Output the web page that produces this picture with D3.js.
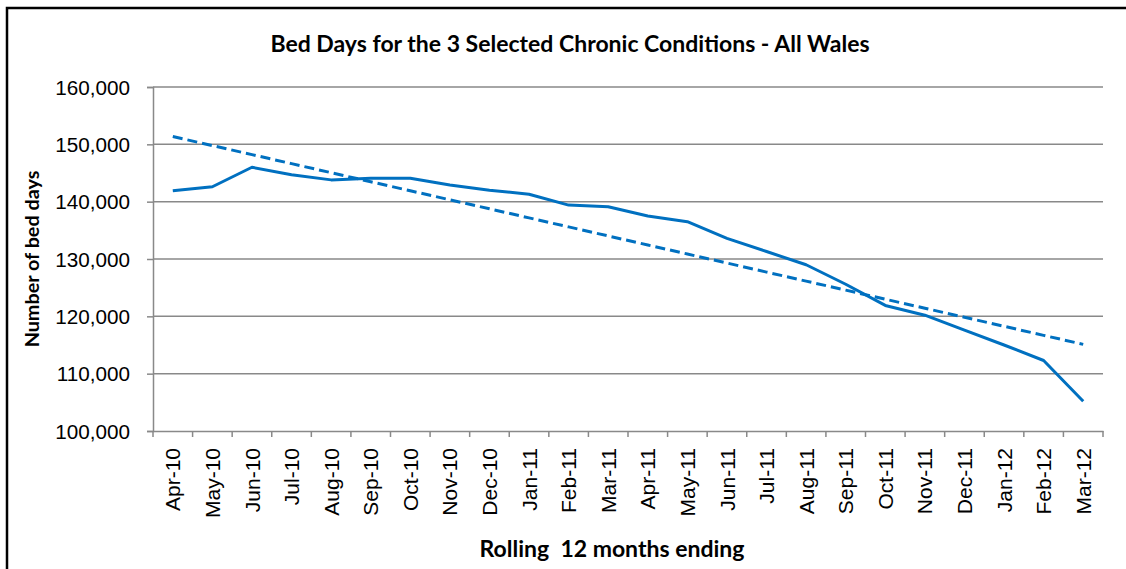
<!DOCTYPE html>
<html>
<head>
<meta charset="utf-8">
<script src="https://cdnjs.cloudflare.com/ajax/libs/d3/7.8.5/d3.min.js"></script>
<style>
  body { margin: 0; background: #fff; }
  svg { display: block; font-family: Lato, "Open Sans", sans-serif; }
</style>
</head>
<body>
<div id="chart"></div>
<script>
var months = ["Apr-10","May-10","Jun-10","Jul-10","Aug-10","Sep-10","Oct-10","Nov-10","Dec-10","Jan-11","Feb-11","Mar-11",
  "Apr-11","May-11","Jun-11","Jul-11","Aug-11","Sep-11","Oct-11","Nov-11","Dec-11","Jan-12","Feb-12","Mar-12"]
var bedDays = [141900,142600,146000,144700,143800,144100,144100,142900,142000,141300,139400,139100,
  137500,136500,133600,131300,129000,125600,121900,120200,117600,115000,112300,105200]
var yTicks = [100000,110000,120000,130000,140000,150000,160000]

var width = 1126, height = 569,
  margin = {top:87, left:153, bottom:138, right:23}

// least squares trend line, like the excel one
var trend = (function(vals) {
  var n = vals.length, mx = (n-1)/2, my = d3.mean(vals), sxy = 0, sxx = 0
  vals.forEach(function(v,i) { sxy += (i-mx)*(v-my); sxx += (i-mx)*(i-mx) })
  var slope = sxy/sxx
  return vals.map(function(v,i) { return my + slope*(i-mx) })
})(bedDays)

var svg = d3.select('#chart').append('svg')
  .attr('width', width).attr('height', height)

// outer frame (cut off at right/bottom like the screenshot)
svg.append('rect')
  .attr('x', 7).attr('y', 8)
  .attr('width', width+20).attr('height', height+20)
  .attr('fill', 'none').attr('stroke', '#000').attr('stroke-width', 2.5)

var x = d3.scaleBand().domain(months)
  .range([margin.left, width - margin.right])

var y = d3.scaleLinear().domain([100000,160000])
  .range([height - margin.bottom, margin.top])

// gridlines
svg.append('g').selectAll('line')
  .data(yTicks.slice(1))
  .enter().append('line')
  .attr('x1', margin.left).attr('x2', width - margin.right)
  .attr('y1', function(d) { return y(d) }).attr('y2', function(d) { return y(d) })
  .attr('stroke', '#898989').attr('stroke-width', 1.5)

// y axis
var yAxis = svg.append('g')
  .attr('transform', 'translate(' + margin.left + ',0)')
  .call(d3.axisLeft(y).tickValues(yTicks).tickSize(6).tickPadding(17).tickFormat(d3.format(',')))
yAxis.select('.domain').attr('stroke', '#898989').attr('stroke-width', 1.5)
yAxis.selectAll('.tick line').attr('stroke', '#898989').attr('stroke-width', 1.5)
yAxis.selectAll('.tick text').attr('fill', '#000').style('font-size', '20.7px').attr('dy', '0.35em')

// x axis
var xAxis = svg.append('g')
  .attr('transform', 'translate(0,' + (height - margin.bottom) + ')')
  .call(d3.axisBottom(x).tickSize(0).tickSizeOuter(0))
xAxis.select('.domain').attr('stroke', '#898989').attr('stroke-width', 1.5)
xAxis.selectAll('.tick text')
  .attr('fill', '#000').style('font-size', '21px')
  .attr('text-anchor', 'end')
  .attr('transform', 'rotate(-90)')
  .attr('x', -17).attr('y', 0).attr('dy', '0.36em')

// boundary ticks between categories
xAxis.append('g').selectAll('line')
  .data(months.map(function(m) { return x(m) }).concat([x.range()[1]]))
  .enter().append('line')
  .attr('x1', function(d) { return d }).attr('x2', function(d) { return d })
  .attr('y1', 0).attr('y2', 6)
  .attr('stroke', '#898989').attr('stroke-width', 1.5)

var line = d3.line()
  .x(function(d,i) { return x(months[i]) + x.bandwidth()/2 })
  .y(function(d) { return y(d) })

svg.append('path')
  .datum(trend)
  .attr('d', line)
  .attr('fill', 'none').attr('stroke', '#0070C0')
  .attr('stroke-width', 3).attr('stroke-dasharray', '10,5')

svg.append('path')
  .datum(bedDays)
  .attr('d', line)
  .attr('fill', 'none').attr('stroke', '#0070C0')
  .attr('stroke-width', 3).attr('stroke-linejoin', 'round')

// titles
svg.append('text')
  .attr('x', 570).attr('y', 52)
  .attr('text-anchor', 'middle')
  .style('font-size', '23px').style('font-weight', 'bold')
  .text('Bed Days for the 3 Selected Chronic Conditions - All Wales')

svg.append('text')
  .attr('transform', 'translate(39,' + ((margin.top + height - margin.bottom)/2) + ')rotate(-90)')
  .attr('text-anchor', 'middle')
  .style('font-size', '19.8px').style('font-weight', 'bold')
  .text('Number of bed days')

svg.append('text')
  .attr('x', 612).attr('y', 557)
  .attr('text-anchor', 'middle')
  .style('font-size', '23px').style('font-weight', 'bold')
  .style('white-space', 'pre')
  .text('Rolling  12 months ending')
</script>
</body>
</html>
